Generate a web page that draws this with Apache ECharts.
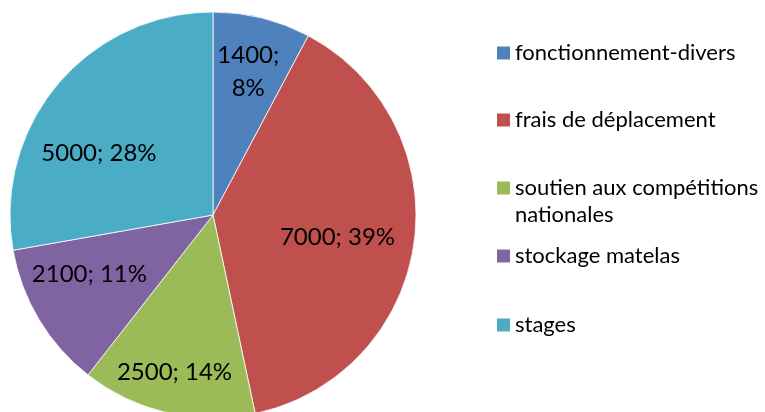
<!DOCTYPE html>
<html>
<head>
<meta charset="utf-8">
<script src="https://cdn.jsdelivr.net/npm/echarts@6/dist/echarts.min.js"></script>
<style>
html, body { margin: 0; padding: 0; background: #fff; }
#chart { width: 765px; height: 412px; }
</style>
</head>
<body>
<div id="chart"></div>
<script>
// données du graphique
var categories = ['fonctionnement-divers', 'frais de déplacement', 'soutien aux compétitions nationales', 'stockage matelas', 'stages'];
var values = [1400, 7000, 2500, 2100, 5000];
var colors = ['#4F81BD', '#C0504D', '#9BBB59', '#8064A2', '#4BACC6'];

// décalage des étiquettes (par rapport à la position "inside")
var labelShift = [[10, -42], [21, 8], [-15, 55], [-34, 5], [-34, 5]];
// position verticale (centre) de chaque entrée de légende
var legendCenters = [53, 120, 188, 256, 325];

var fontName = 'Lato, "Open Sans", sans-serif';
var legendLine = 27;

var myChart = echarts.init(document.getElementById('chart'));

var legends = categories.map(function (name, i) {
    var multi = name.indexOf('compétitions') >= 0;
    return {
        orient: 'vertical',
        left: 497,
        top: legendCenters[i] - (multi ? legendLine * 1.5 : legendLine / 2),
        padding: 0,
        data: [name],
        icon: 'rect',
        itemWidth: 13,
        itemHeight: 13,
        itemStyle: { borderWidth: 0 },
        selectedMode: false,
        formatter: function (n) {
            if (n.indexOf('compétitions') >= 0) {
                return ' \nsoutien aux compétitions\nnationales';
            }
            return n;
        },
        textStyle: {
            fontFamily: fontName,
            fontSize: 22,
            lineHeight: legendLine,
            color: '#000'
        }
    };
});

var option = {
    animation: false,
    color: colors,
    legend: legends,
    series: [{
        type: 'pie',
        center: [213, 215],
        radius: 203,
        startAngle: 90,
        clockwise: true,
        percentPrecision: 0,
        itemStyle: {
            borderColor: '#fff',
            borderWidth: 0.8
        },
        label: {
            show: true,
            position: 'inside',
            fontFamily: fontName,
            fontSize: 24,
            lineHeight: 33,
            color: '#000',
            formatter: function (p) {
                var sep = p.dataIndex === 0 ? ';\n' : '; ';
                return p.value + sep + p.percent + '%';
            }
        },
        labelLine: { show: false },
        labelLayout: function (params) {
            var s = labelShift[params.dataIndex];
            return { dx: s[0], dy: s[1] };
        },
        data: categories.map(function (name, i) {
            return { name: name, value: values[i] };
        })
    }]
};

myChart.setOption(option);
</script>
</body>
</html>
